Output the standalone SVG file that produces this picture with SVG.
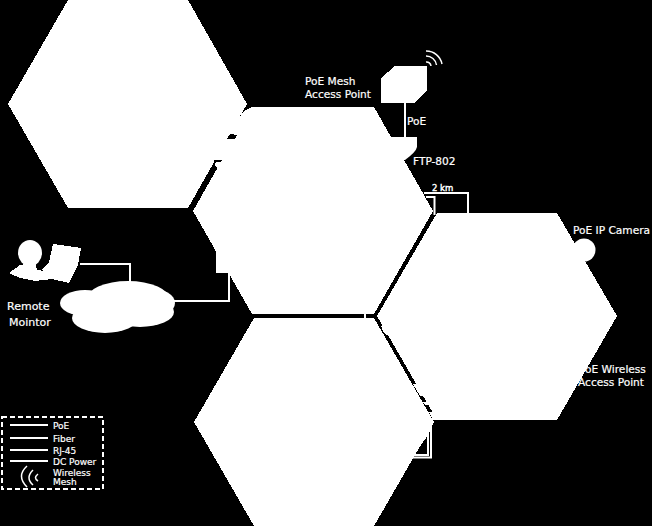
<svg xmlns="http://www.w3.org/2000/svg" width="652" height="526" viewBox="0 0 652 526">
<style>
.f{fill:#fff;stroke:none}
.k{fill:#000;stroke:none}
.l{fill:none;stroke:#fff;stroke-width:2}
.a{fill:none;stroke:#fff;stroke-width:1.500}
.t{fill:#fff;stroke:#fff;stroke-width:.2;font-family:"DejaVu Sans",sans-serif;font-size:10.600px}
.s{fill:#fff;stroke:#fff;stroke-width:.2;font-family:"DejaVu Sans",sans-serif;font-size:9px}
polygon,rect{shape-rendering:crispEdges}
</style>
<rect width="652" height="526" fill="#000"/>
<g id="connectors">
<path class="l" d="M80 264H130V284"/>
<path class="l" d="M165 301H229V272"/>
<path class="l" d="M405 102V138"/>
<path class="l" d="M424 193H468V214"/>
<path class="l" d="M426 197H434.500V215"/>
<path class="l" d="M412 455H428V412"/>
<path class="l" d="M410 457.500H431V418"/>
</g>
<g id="hex-top-left"><polygon class="f" points="8,104 68,0 188,0 247,104 188,208 68,208"/></g>
<g id="hex-center"><polygon class="f" points="193,211 252,107 374,107 433,211 374,314 252,314"/>
<polygon class="f" points="216,250 216,273 229,273 215,250"/></g>
<g id="hex-right"><polygon class="f" points="377,316 437,213 557,213 617,316 557,420 437,420"/></g>
<g id="hex-bottom"><polygon class="f" points="194,422 254,318 374,318 434,422 374,526 254,526"/></g>
<g id="bridges">
<polygon class="f" points="244,111 252,107 252,115 222,162 218,170 214,163 216,150"/>
<polygon class="k" points="227,139 230,134 237,135 235,139"/>
<polygon class="k" points="214,160 222,160 220,162 216,162 214,164"/>
<polygon class="f" points="381,326 387,326 390,333 384,333"/>
<rect class="f" x="364" y="313" width="2" height="6"/>
<polygon class="f" points="385,333 391,333 392,335 386,335"/>
<polygon class="f" points="413,384 423,384 430,396 420,396"/>
<polygon class="f" points="423,402 433,402 435,405 425,405"/>
<polygon class="f" points="429,412 438,412 438,420 433,420"/>
<polygon class="f" points="414,455 428,435 434,422 424,422 413,440"/>
</g>
<g id="remote-monitor">
<ellipse class="f" cx="30" cy="253" rx="12" ry="13"/>
<polygon class="f" points="9,273 20,265 35,262 37,270 45,271 52,279 35,281 20,278"/>
<polygon class="f" points="53,244 81,248 78,265 69,283 52,279 42,270 49,262"/>
<text class="t" x="7" y="310" style="font-size:11px">Remote</text>
<text class="t" x="9" y="326" style="font-size:11px">Mointor</text>
</g>
<g id="cloud">
<ellipse class="f" cx="85" cy="303" rx="25" ry="13"/>
<ellipse class="f" cx="128" cy="300" rx="42" ry="19"/>
<ellipse class="f" cx="105" cy="318" rx="33" ry="15"/>
<ellipse class="f" cx="140" cy="312" rx="34" ry="15"/>
<ellipse class="f" cx="150" cy="303" rx="25" ry="15"/>
</g>
<g id="mesh-ap">
<polygon class="f" points="381,78 395,66 427,66 427,91 414,103 381,103"/>
<path class="a" d="M426 51A16 16 0 0 1 442 64M426 56A10.500 10.500 0 0 1 436.500 65M426 62A4.500 4.500 0 0 1 431 66"/>
<text class="t" x="305" y="85">PoE Mesh</text>
<text class="t" x="305" y="98">Access Point</text>
<text class="t" x="407" y="125">PoE</text>
</g>
<g id="ftp-802">
<path class="f" d="M388 137H417V147Q416 152 405 160L398 160Z"/>
<text class="t" x="413" y="165">FTP-802</text>
</g>
<g id="link-label"><text class="s" x="432" y="191" style="font-size:8.500px;stroke-width:.4">2 km</text></g>
<g id="ip-camera">
<circle class="f" cx="584" cy="250" r="11.500"/>
<text class="t" x="573" y="234">PoE IP Camera</text>
</g>
<g id="wireless-ap">
<text class="t" x="579" y="373">PoE Wireless</text>
<text class="t" x="578" y="386">Access Point</text>
</g>
<g id="legend">
<rect x="2" y="417" width="101" height="72" fill="none" stroke="#fff" stroke-width="2" stroke-dasharray="5 3"/>
<path class="l" d="M10 425H48M10 438H48M10 450H48M10 461H48"/>
<path class="a" d="M27 466Q16 476 27 487M33 470Q25 478 33 485M38 474Q33 478 38 481"/>
<text class="s" x="53" y="429">PoE</text>
<text class="s" x="53" y="442">Fiber</text>
<text class="s" x="53" y="454">RJ-45</text>
<text class="s" x="53" y="465">DC Power</text>
<text class="s" x="53" y="476">Wireless</text>
<text class="s" x="53" y="485">Mesh</text>
</g>
</svg>
